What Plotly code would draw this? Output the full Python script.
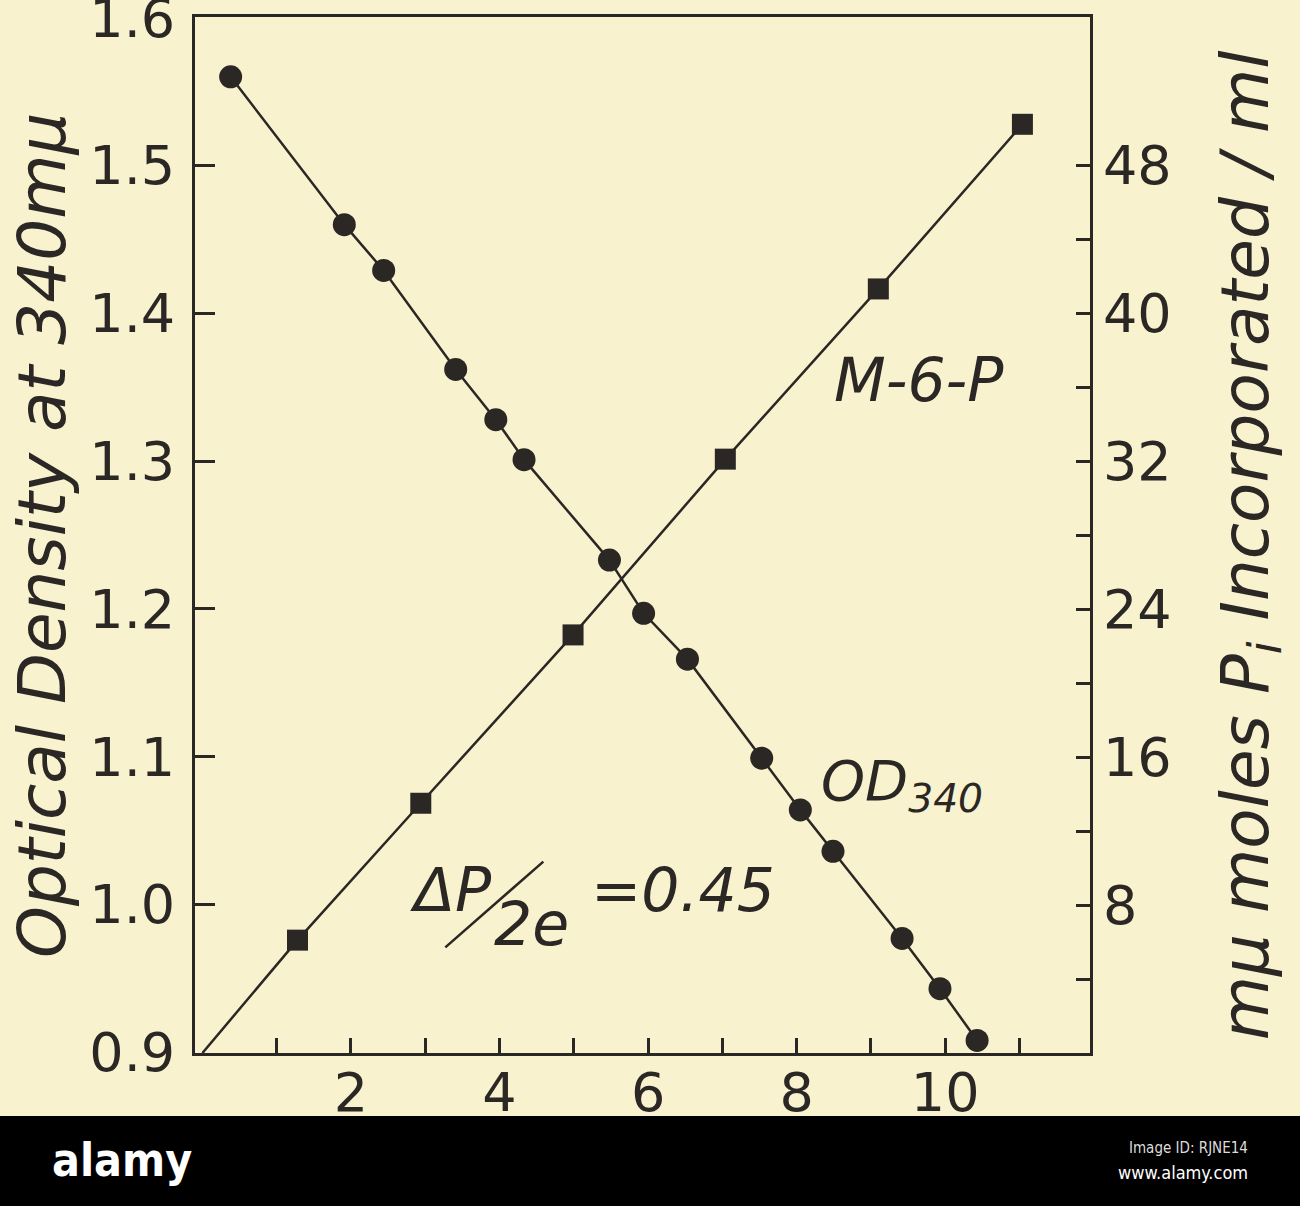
import plotly.graph_objects as go

# ---- data ----
# optical density at 340 mu (circles, left axis)
od_x = [0.38, 1.91, 2.44, 3.41, 3.95, 4.33, 5.48, 5.94, 6.53, 7.53, 8.05, 8.49, 9.42, 9.93, 10.43]
od_y = [1.560, 1.460, 1.429, 1.362, 1.328, 1.301, 1.233, 1.197, 1.166, 1.099, 1.064, 1.036, 0.977, 0.943, 0.908]

# M-6-P, m-mu moles Pi incorporated / ml (squares, right axis)
mp_x = [1.28, 2.94, 4.99, 7.04, 9.10, 11.04]
mp_y = [6.1, 13.5, 22.6, 32.1, 41.3, 50.2]
# the drawn line starts from the origin
mp_line_x = [0.0] + mp_x
mp_line_y = [0.0] + mp_y

x_ticks = [2, 4, 6, 8, 10]
x_labels = ["2", "4", "6", "8", "10"]
x_minor = [1, 3, 5, 7, 9, 11]
left_ticks = [0.9, 1.0, 1.1, 1.2, 1.3, 1.4, 1.5, 1.6]
left_labels = ["0.9", "1.0", "1.1", "1.2", "1.3", "1.4", "1.5", "1.6"]
right_ticks = [8, 16, 24, 32, 40, 48]
right_labels = ["8", "16", "24", "32", "40", "48"]
right_minor = [4, 12, 20, 28, 36, 44]

INK = "#2b2724"
PAPER = "#f8f2cf"
FONT = "DejaVu Sans"

fig = go.Figure()

# OD340 line with dots
fig.add_trace(go.Scatter(x=od_x, y=od_y, mode="lines+markers",
                         line=dict(color=INK, width=2.5),
                         marker=dict(symbol="circle", size=23, color=INK),
                         showlegend=False))
# M-6-P line from the origin, then the squares on top
fig.add_trace(go.Scatter(x=mp_line_x, y=mp_line_y, mode="lines", yaxis="y2",
                         line=dict(color=INK, width=2.5), showlegend=False))
fig.add_trace(go.Scatter(x=mp_x, y=mp_y, mode="markers", yaxis="y2",
                         marker=dict(symbol="square", size=21, color=INK),
                         showlegend=False))

tick_font = dict(family=FONT, size=54, color=INK)

fig.update_layout(
    width=1300, height=1206,
    margin=dict(l=195, r=210, t=17, b=153, autoexpand=False),
    paper_bgcolor=PAPER, plot_bgcolor=PAPER,
    xaxis=dict(range=[-0.1, 11.95], tickvals=x_ticks, ticktext=x_labels,
               ticks="inside", ticklen=15, tickwidth=2.5, tickcolor=INK,
               minor=dict(tickvals=x_minor, ticks="inside", ticklen=15,
                          tickwidth=2.5, tickcolor=INK, showgrid=False),
               showline=True, mirror=True, linecolor=INK, linewidth=3,
               showgrid=False, zeroline=False, tickfont=tick_font,
               ticklabelstandoff=-10, automargin=False),
    yaxis=dict(range=[0.8995, 1.6005], tickvals=left_ticks, ticktext=left_labels,
               ticks="inside", ticklen=20, tickwidth=2.5, tickcolor=INK,
               showline=True, mirror=True, linecolor=INK, linewidth=3,
               showgrid=False, zeroline=False, tickfont=tick_font,
               ticklabelstandoff=6, ticklabeloverflow="allow", automargin=False),
    yaxis2=dict(range=[0, 56], overlaying="y", side="right",
                tickvals=right_ticks, ticktext=right_labels,
                ticks="inside", ticklen=14, tickwidth=2.5, tickcolor=INK,
                minor=dict(tickvals=right_minor, ticks="inside", ticklen=14,
                           tickwidth=2.5, tickcolor=INK, showgrid=False),
                showline=False, showgrid=False, zeroline=False,
                tickfont=tick_font, ticklabelstandoff=12, automargin=False),
)

# axis titles (rotated, italic)
fig.add_annotation(text="Optical Density at 340mμ", xref="paper", yref="paper",
                   x=0, y=0.5, xshift=-153, textangle=-90, showarrow=False,
                   xanchor="center", yanchor="middle",
                   font=dict(family=FONT, size=66, color=INK, style="italic"))
fig.add_annotation(text="mμ moles P<sub>i</sub> Incorporated / ml", xref="paper", yref="paper",
                   x=1, y=0.49, xshift=160, textangle=-90, showarrow=False,
                   xanchor="center", yanchor="middle",
                   font=dict(family=FONT, size=66, color=INK, style="italic"))

# curve labels inside the box
in_font = dict(family=FONT, size=60, color=INK, style="italic")
fig.add_annotation(text="M-6-P", x=9.65, y=1.355, showarrow=False, font=in_font)
fig.add_annotation(text="OD<sub>340</sub>", x=8.30, y=1.081, xanchor="left",
                   showarrow=False, font=dict(family=FONT, size=56, color=INK, style="italic"))
fig.add_annotation(text="ΔP", x=2.77, y=1.010, xanchor="left", showarrow=False, font=in_font)
fig.add_annotation(text="2e", x=3.90, y=0.9865, xanchor="left", showarrow=False, font=in_font)
fig.add_annotation(text="=0.45", x=5.20, y=1.0095, xanchor="left", showarrow=False, font=in_font)
fig.add_shape(type="line", x0=3.27, y0=0.971, x1=4.59, y1=1.029,
              line=dict(color=INK, width=2.5))

# stock-photo banner along the bottom
fig.add_shape(type="rect", xref="paper", yref="paper",
              x0=-0.25, x1=1.26, y0=-0.2, y1=-0.0608,
              fillcolor="black", line=dict(width=0), layer="above")
banner_font = "DejaVu Sans Condensed, Liberation Sans, sans-serif"
fig.add_annotation(text="<b>alamy</b>", xref="paper", yref="paper", x=-0.162, y=-0.103,
                   xanchor="left", yanchor="middle", showarrow=False,
                   font=dict(family=banner_font, size=46, color="white"))
fig.add_annotation(text="Image ID: RJNE14", xref="paper", yref="paper", x=1.1788, y=-0.0917,
                   xanchor="right", yanchor="middle", showarrow=False,
                   font=dict(family=banner_font, size=15, color="#dddddd"))
fig.add_annotation(text="www.alamy.com", xref="paper", yref="paper", x=1.1788, y=-0.1149,
                   xanchor="right", yanchor="middle", showarrow=False,
                   font=dict(family=banner_font, size=18, color="white"))

# drop the browser's default body margin so the figure fills the window, no toolbar
fig.write_html("out.html", config={"displayModeBar": False},
               post_script="document.body.style.margin='0';")
